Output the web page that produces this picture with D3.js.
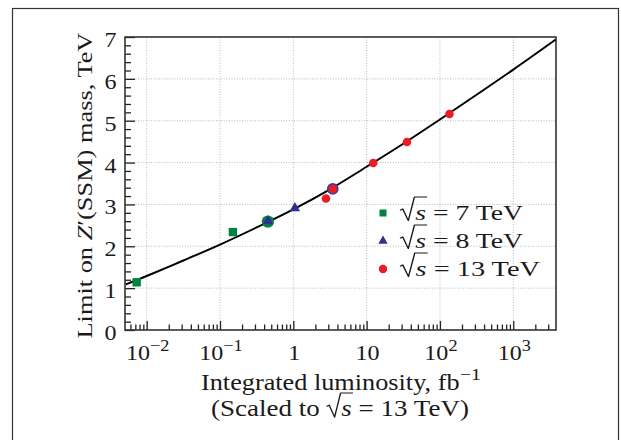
<!DOCTYPE html>
<html>
<head>
<meta charset="utf-8">
<script src="https://cdn.jsdelivr.net/npm/d3@7"></script>
<style>
  body { margin: 0; background: #fff; }
  text { font-family: "Liberation Serif", "Times New Roman", serif; fill: #1a1a1a; }
</style>
</head>
<body>
<svg id="chart" width="621" height="440"></svg>
<script>
// values
const curveLumi = [0.0052, 0.01, 0.0316, 0.1, 0.316, 1, 3.16, 10, 31.6, 100, 316, 1000, 3800];
const curveMass = [1.09, 1.29, 1.66, 2.04, 2.45, 2.88, 3.36, 3.90, 4.45, 5.03, 5.62, 6.22, 6.94];

const lumi7 = [0.0073, 0.150];
const mass7 = [1.14, 2.34];
const ringLumi7 = [0.45];
const ringMass7 = [2.59];

const lumi8 = [0.45, 1.05];
const mass8 = [2.59, 2.90];
const ringLumi8 = [3.45];
const ringMass8 = [3.37];

const lumi13 = [2.79, 3.45, 12.3, 35.5, 135];
const mass13 = [3.14, 3.37, 3.99, 4.49, 5.16];

const xMajor = [0.01, 0.1, 1, 10, 100, 1000];
const xLabels = [["10", "\u22122"], ["10", "\u22121"], ["1"], ["10"], ["10", "2"], ["10", "3"]];
const yMajor = [0, 1, 2, 3, 4, 5, 6, 7];

const GREEN = "#00843d", BLUE = "#2e3192", RED = "#ed1c24";
const STRETCH = 1.12;

const svg = d3.select("#chart");
const box = { left: 125, right: 556, top: 37, bottom: 330 };

const x = d3.scaleLog().domain([0.00506, 3830]).range([box.left, box.right]);
const y = d3.scaleLinear().domain([0, 7]).range([box.bottom, box.top]);

// outer frame of the figure
svg.append("rect")
    .attr("x", 12.5).attr("y", 8.5).attr("width", 606).attr("height", 450)
    .attr("fill", "none").attr("stroke", "#333").attr("stroke-width", 1.2);

// text with italic / superscript / radical pieces
function rich(parent, parts, o) {
    const f = o.size;
    const outer = parent.append("g");
    const inner = outer.append("g");
    let cx = 0;
    parts.forEach(p => {
        if (typeof p === "string") p = { t: p };
        const fs = p.sup ? f * 0.76 : f;
        const x0 = cx;
        if (p.rad) cx += f * 0.55;
        const t = inner.append("text")
            .attr("x", cx).attr("y", p.sup ? -f * 0.43 : 0)
            .attr("font-size", fs)
            .attr("xml:space", "preserve").style("white-space", "pre")
            .text(p.sup || p.t);
        if (p.it) t.attr("font-style", "italic");
        const w = t.node().getComputedTextLength();
        if (p.rad) {
            inner.append("path")
                .attr("d", `M${x0},${-f * 0.42}L${x0 + f * 0.1},${-f * 0.48}L${x0 + f * 0.3},${f * 0.05}L${x0 + f * 0.52},${-f * 1.02}H${cx + w + f * 0.04}`)
                .attr("fill", "none").attr("stroke", "#1a1a1a").attr("stroke-width", f * 0.05)
                .attr("stroke-linejoin", "round");
        }
        cx += w;
    });
    const a = o.anchor === "middle" ? 0.5 : o.anchor === "end" ? 1 : 0;
    const sx = o.width ? o.width / cx : STRETCH;
    inner.attr("transform", `translate(${-cx * a},0)`);
    outer.attr("transform", `translate(${o.x},${o.y}) rotate(${o.rotate || 0}) scale(${sx},1)`);
    return cx;
}

// grid
const grid = svg.append("g").attr("stroke", "#b4b4b4").attr("stroke-width", 0.9).attr("stroke-dasharray", "1,1.6");
grid.selectAll(".gx").data(xMajor).join("line")
    .attr("x1", d => x(d)).attr("x2", d => x(d)).attr("y1", box.top).attr("y2", box.bottom);
grid.selectAll(".gy").data(yMajor.slice(1, -1)).join("line")
    .attr("x1", box.left).attr("x2", box.right).attr("y1", d => y(d)).attr("y2", d => y(d));

// ticks, pointing inward
let xMinor = [];
for (let k = -3; k <= 3; k++) for (let m = 2; m <= 9; m++) xMinor.push(m * Math.pow(10, k));
xMinor = xMinor.filter(v => v >= x.domain()[0] && v <= x.domain()[1]);
const yMinor = d3.range(0, 7.001, 0.2).filter(v => Math.abs(v - Math.round(v)) > 0.01);

function tickAxis(axis, cls) {
    const g = svg.append("g").attr("class", cls).call(axis);
    g.select(".domain").remove();
    g.selectAll("line").attr("stroke", "#222").attr("stroke-width", 1.3);
    g.selectAll("text").remove();
    return g;
}
tickAxis(d3.axisBottom(x).tickValues(xMajor).tickSize(-9), "xmaj").attr("transform", `translate(0,${box.bottom})`);
tickAxis(d3.axisBottom(x).tickValues(xMinor).tickSize(-5.5), "xmin").attr("transform", `translate(0,${box.bottom})`);
tickAxis(d3.axisLeft(y).tickValues(yMajor).tickSize(-10), "ymaj").attr("transform", `translate(${box.left},0)`);
tickAxis(d3.axisLeft(y).tickValues(yMinor).tickSize(-6), "ymin").attr("transform", `translate(${box.left},0)`);

// plot frame
svg.append("rect")
    .attr("x", box.left).attr("y", box.top)
    .attr("width", box.right - box.left).attr("height", box.bottom - box.top)
    .attr("fill", "none").attr("stroke", "#333").attr("stroke-width", 1.6);

// fitted curve
const curvePts = curveLumi.map((v, i) => [v, curveMass[i]]);
svg.append("path").datum(curvePts)
    .attr("d", d3.line().x(d => x(d[0])).y(d => y(d[1])).curve(d3.curveCatmullRom.alpha(0.5)))
    .attr("fill", "none").attr("stroke", "#000").attr("stroke-width", 2);

// markers
const triangle = d3.symbol().type(d3.symbolTriangle).size(48);
const marks = svg.append("g");
marks.selectAll(".r7").data(ringLumi7).join("circle")
    .attr("cx", d => x(d)).attr("cy", (d, i) => y(ringMass7[i])).attr("r", 6.2).attr("fill", GREEN);
marks.selectAll(".s7").data(lumi7).join("rect")
    .attr("x", d => x(d) - 4.2).attr("y", (d, i) => y(mass7[i]) - 4.2)
    .attr("width", 8.4).attr("height", 8.4).attr("fill", GREEN);
marks.selectAll(".t8").data(lumi8).join("path")
    .attr("d", triangle)
    .attr("transform", (d, i) => `translate(${x(d)},${y(mass8[i]) - 0.5})`).attr("fill", BLUE);
marks.selectAll(".r8").data(ringLumi8).join("circle")
    .attr("cx", d => x(d)).attr("cy", (d, i) => y(ringMass8[i])).attr("r", 5.9).attr("fill", "#3a3d9c");
marks.selectAll(".c13").data(lumi13).join("circle")
    .attr("cx", d => x(d)).attr("cy", (d, i) => y(mass13[i])).attr("r", 4.3).attr("fill", RED);

// tick labels
xMajor.forEach((v, i) => {
    const lab = xLabels[i];
    const parts = lab.length > 1 ? [lab[0], { sup: lab[1] }] : [lab[0]];
    rich(svg, parts, { x: x(v) + 1, y: 360, size: 21.5, anchor: "middle" });
});
yMajor.forEach(v => {
    rich(svg, [String(v)], { x: 116.5, y: y(v) + 10, size: 21.5, anchor: "end" });
});

// axis titles
rich(svg, ["Limit on ", { t: "Z", it: true }, "\u2032(SSM) mass, TeV"],
    { x: 92, y: 185.5, size: 21.5, anchor: "middle", rotate: -90, width: 306 });
rich(svg, ["Integrated luminosity, fb", { sup: "\u22121" }],
    { x: 341, y: 390, size: 22.5, anchor: "middle", width: 280 });
rich(svg, ["(Scaled to ", { t: "s", it: true, rad: true }, " = 13 TeV)"],
    { x: 340, y: 416, size: 22.5, anchor: "middle", width: 258 });

// legend
const legendRows = [
    { y: 213, label: " = 7 TeV", color: GREEN, shape: "square", w: 123 },
    { y: 241, label: " = 8 TeV", color: BLUE, shape: "triangle", w: 123 },
    { y: 269, label: " = 13 TeV", color: RED, shape: "circle", w: 140 }
];
const leg = svg.append("g");
legendRows.forEach(r => {
    if (r.shape === "square") leg.append("rect").attr("x", 379.5).attr("y", r.y - 3.5).attr("width", 7).attr("height", 7).attr("fill", r.color);
    if (r.shape === "triangle") leg.append("path").attr("d", d3.symbol().type(d3.symbolTriangle).size(38)).attr("transform", `translate(383,${r.y})`).attr("fill", r.color);
    if (r.shape === "circle") leg.append("circle").attr("cx", 383).attr("cy", r.y).attr("r", 4.2).attr("fill", r.color);
    rich(leg, [{ t: "s", it: true, rad: true }, r.label], { x: 400, y: r.y + 6.5, size: 22, width: r.w });
});
</script>
</body>
</html>
